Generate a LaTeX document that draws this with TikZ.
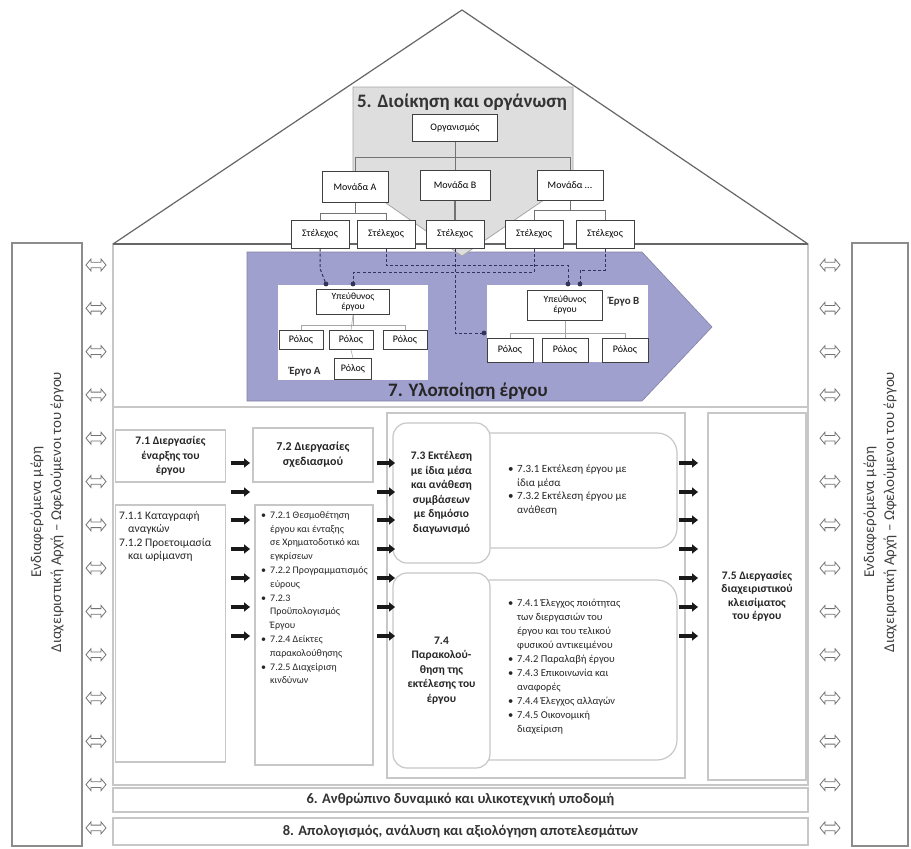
\documentclass[tikz,border=0pt]{standalone}
\usepackage{fontspec}
\setmainfont{Carlito}
\usetikzlibrary{arrows.meta}
\definecolor{lav}{RGB}{160,160,206}
\definecolor{dashc}{RGB}{50,50,90}
\newcommand\bl{\makebox[9pt][l]{\textbullet}}
\newcommand\ind{\hspace*{9pt}}
\tikzset{
  roofline/.style={draw=black!60, line width=1.2pt},
  frame/.style={draw=black!22, line width=1.3pt},
  orgbox/.style={draw=black!75, line width=1pt, fill=white, inner sep=1pt, align=center, font=\fontsize{10}{11}\selectfont},
  treeline/.style={draw=black!55, line width=0.8pt},
  lighttree/.style={draw=black!35, line width=0.6pt},
  dconn/.style={draw=dashc, line width=1pt, dash pattern=on 3pt off 2.2pt},
  pbox/.style={draw=black!22, line width=1.2pt, fill=white},
  rbox/.style={draw=black!22, line width=1.2pt, fill=white, rounded corners=14pt},
  headtxt/.style={font=\bfseries\fontsize{12}{15}\selectfont, align=center, text=black!85},
  bodytxt/.style={align=left, text=black!85, inner sep=0pt},
  barrow/.style={line width=3.2pt, -{Triangle[length=6pt,width=9pt]}, black!90},
  bartxt/.style={font=\bfseries\fontsize{14.5}{16}\selectfont, text=black!80},
  sidetxt/.style={font=\fontsize{15}{20}\selectfont, align=center, text=black!75, rotate=90},
  pics/dbl/.style={code={\draw[black!55, fill=white, line width=0.8pt] (-10,0) -- (-5,-6) -- (-5,-2.8) -- (5,-2.8) -- (5,-6) -- (10,0) -- (5,6) -- (5,2.8) -- (-5,2.8) -- (-5,6) -- cycle;}}
}
\begin{document}
\begin{tikzpicture}[x=1pt,y=-1pt]
\useasboundingbox (0,0) rectangle (911,849);
\fill[white] (0,0) rectangle (911,849);

% side panels
\node[draw=black!45, line width=1.2pt, minimum width=70pt, minimum height=603pt, inner sep=0pt] (sideL) at (47,544.5) {};
\node[draw=black!45, line width=1.2pt, minimum width=56pt, minimum height=603pt, inner sep=0pt] (sideR) at (880,544.5) {};
\node[sidetxt] (sideLt) at (47,512) {Ενδιαφερόμενα μέρη\\Διαχειριστική Αρχή – Ωφελούμενοι του έργου};
\node[sidetxt] (sideRt) at (880,512) {Ενδιαφερόμενα μέρη\\Διαχειριστική Αρχή – Ωφελούμενοι του έργου};

% double arrows
\foreach \i in {0,...,13} {
  \pgfmathsetmacro\yy{265+43.3*\i}
  \pic (dL\i) at (96,\yy) {dbl};
  \pic (dR\i) at (830,\yy) {dbl};
}

% roof and main frame
\draw[roofline] (113,244) -- (462,10) -- (808,244);
\draw[frame] (113,244) rectangle (808,785);
\draw[frame] (113,407) -- (808,407);

% purple chevron
\filldraw[fill=lav, draw=lav!80!black, line width=0.6pt] (247,252) -- (642,252) -- (712,327) -- (642,401) -- (247,401) -- cycle;

% gray chevron of section 5
\filldraw[fill=black!13, draw=black!35, line width=0.8pt] (353,87) -- (573,87) -- (573,180) -- (462,256) -- (353,180) -- cycle;
\draw[roofline] (113,244) -- (808,244);
\node[font=\bfseries\fontsize{19}{21}\selectfont, text=black!80] (t5) at (462,102) {5. Διοίκηση και οργάνωση};

% organisation tree
\node[orgbox, minimum width=85pt, minimum height=27pt] (org) at (455,128) {Οργανισμός};
\node[orgbox, minimum width=66pt, minimum height=31pt] (monA) at (355,187) {Μονάδα Α};
\node[orgbox, minimum width=70pt, minimum height=30pt] (monB) at (455,185) {Μονάδα Β};
\node[orgbox, minimum width=66pt, minimum height=30pt] (monC) at (570,185) {Μονάδα ...};
\foreach \x [count=\i] in {320,386,455,534,605} {
  \node[orgbox, minimum width=58pt, minimum height=28pt] (st\i) at (\x,234) {Στέλεχος};
}
\draw[treeline] (org.south) -- ++(0,15.5) -| (monA.north);
\draw[treeline] (org.south) -- ++(0,15.5) -| (monC.north);
\draw[treeline] (org.south) -- (monB.north);
\draw[treeline] (monA.south) -- ++(0,10) -| (st1.north);
\draw[treeline] (monA.south) -- ++(0,10) -| (st2.north);
\draw[treeline] (monC.south) -- ++(0,10) -| (st4.north);
\draw[treeline] (monC.south) -- ++(0,10) -| (st5.north);
\draw[treeline, line width=1.6pt] (monB.south) -- (st3.north);

% projects
\node[fill=white, minimum width=150pt, minimum height=95pt, inner sep=0pt] (projA) at (353,332.5) {};
\node[fill=white, minimum width=161pt, minimum height=77pt, inner sep=0pt] (projB) at (567.5,323.5) {};
\node[orgbox, minimum width=73pt, minimum height=25pt, font=\fontsize{9.5}{10}\selectfont] (respA) at (353,302) {Υπεύθυνος\\έργου};
\node[orgbox, minimum width=44pt, minimum height=19pt] (rA1) at (301,340) {Ρόλος};
\node[orgbox, minimum width=44pt, minimum height=19pt] (rA2) at (351,340) {Ρόλος};
\node[orgbox, minimum width=44pt, minimum height=19pt] (rA3) at (405,340) {Ρόλος};
\node[orgbox, minimum width=37pt, minimum height=21pt] (rA4) at (353,369) {Ρόλος};
\node[font=\bfseries\fontsize{11}{12}\selectfont, text=black!80] (lblA) at (305,372) {Έργο Α};
\draw[lighttree] (respA.south) -- ++(0,10) -| (rA1.north);
\draw[lighttree] (respA.south) -- ++(0,10) -| (rA3.north);
\draw[lighttree] (respA.south) -- (rA2.north);
\draw[lighttree] (rA2.south) -- (rA4.north);
\node[orgbox, minimum width=75pt, minimum height=30pt, font=\fontsize{9.5}{10.5}\selectfont] (respB) at (565,305) {Υπεύθυνος\\έργου};
\node[font=\bfseries\fontsize{11}{12}\selectfont, text=black!80] (lblB) at (624,302) {Έργο Β};
\node[orgbox, minimum width=46pt, minimum height=24pt] (rB1) at (510,350) {Ρόλος};
\node[orgbox, minimum width=46pt, minimum height=24pt] (rB2) at (565,350) {Ρόλος};
\node[orgbox, minimum width=46pt, minimum height=24pt] (rB3) at (625,350) {Ρόλος};
\draw[lighttree] (respB.south) -- ++(0,13) -| (rB1.north);
\draw[lighttree] (respB.south) -- ++(0,13) -| (rB3.north);
\draw[lighttree] (respB.south) -- (rB2.north);

% dashed assignment connectors
\coordinate (dA1) at (326,284);
\coordinate (dA2) at (353,284);
\coordinate (dB1) at (568,284);
\coordinate (dB2) at (580,284);
\coordinate (dB3) at (484,333);
\draw[dconn] (st1.south) -- ++(0,20) -- (dA1);
\draw[dconn] (st4.south) -- ++(0,24) -| (dA2);
\draw[dconn] (st2.south) -- ++(0,17) -| (dB1);
\draw[dconn] (st5.south) -- ++(0,22) -| (dB2);
\draw[dconn] (st3.south) |- (dB3);
\foreach \c in {dA1,dA2,dB1,dB2,dB3} \fill[dashc] (\c) circle (2.4);
\node[font=\bfseries\fontsize{19}{21}\selectfont, text=black!85] (t7) at (468,391) {7. Υλοποίηση έργου};

% lower process section
\node[pbox, minimum width=110pt, minimum height=52pt] (b71h) at (170.5,456) {};
\node[headtxt, font=\bfseries\fontsize{11.5}{14.5}\selectfont] (t71h) at (b71h) {7.1 Διεργασίες\\έναρξης του\\έργου};
\node[pbox, minimum width=110pt, minimum height=257pt] (b71c) at (170.5,633.5) {};
\node[bodytxt, font=\fontsize{11.5}{13.5}\selectfont, anchor=north west] (t71c) at (119,511) {7.1.1 Καταγραφή\\\ind αναγκών\\7.1.2 Προετοιμασία\\\ind και ωρίμανση};
\node[pbox, minimum width=120pt, minimum height=54pt] (b72h) at (313,455) {};
\node[headtxt] (t72h) at (b72h) {7.2 Διεργασίες\\σχεδιασμού};
\node[pbox, minimum width=118pt, minimum height=260pt] (b72c) at (314,635) {};
\node[bodytxt, font=\fontsize{10}{13.8}\selectfont, anchor=north west] (t72c) at (261,511) {%
\bl 7.2.1 Θεσμοθέτηση\\\ind έργου και ένταξης\\\ind σε Χρηματοδοτικό και\\\ind εγκρίσεων\\
\bl 7.2.2 Προγραμματισμός\\\ind εύρους\\
\bl 7.2.3\\\ind Προϋπολογισμός\\\ind Έργου\\
\bl 7.2.4 Δείκτες\\\ind παρακολούθησης\\
\bl 7.2.5 Διαχείριση\\\ind κινδύνων};

\node[pbox, minimum width=298pt, minimum height=365pt] (b7out) at (536,595.5) {};
\node[rbox, rounded corners=20pt, minimum width=207pt, minimum height=115pt] (b73r) at (573.5,490.5) {};
\node[rbox, minimum width=97pt, minimum height=140pt] (b73l) at (441.5,493) {};
\node[headtxt, font=\bfseries\fontsize{11.5}{14.5}\selectfont] (t73l) at (b73l) {7.3 Εκτέλεση\\με ίδια μέσα\\και ανάθεση\\συμβάσεων\\με δημόσιο\\διαγωνισμό};
\node[bodytxt, font=\fontsize{11}{13.5}\selectfont, anchor=west] (t73r) at (508,490) {%
\bl 7.3.1 Εκτέλεση έργου με\\\ind ίδια μέσα\\
\bl 7.3.2 Εκτέλεση έργου με\\\ind ανάθεση};
\node[rbox, rounded corners=20pt, minimum width=207pt, minimum height=180pt] (b74r) at (573.5,670) {};
\node[rbox, minimum width=97pt, minimum height=195pt] (b74l) at (441.5,670.5) {};
\node[headtxt, font=\bfseries\fontsize{11.5}{14.5}\selectfont] (t74l) at (b74l) {7.4\\Παρακολού-\\θηση της\\εκτέλεσης του\\έργου};
\node[bodytxt, font=\fontsize{10.5}{14}\selectfont, anchor=north west] (t74r) at (508,599) {%
\bl 7.4.1 Έλεγχος ποιότητας\\\ind των διεργασιών του\\\ind έργου και του τελικού\\\ind φυσικού αντικειμένου\\
\bl 7.4.2 Παραλαβή έργου\\
\bl 7.4.3 Επικοινωνία και\\\ind αναφορές\\
\bl 7.4.4 Έλεγχος αλλαγών\\
\bl 7.4.5 Οικονομική\\\ind διαχείριση};

\node[pbox, minimum width=98pt, minimum height=367pt] (b75) at (757,596.5) {};
\node[headtxt, font=\bfseries\fontsize{11.5}{13.5}\selectfont] (t75) at (b75) {7.5 Διεργασίες\\διαχειριστικού\\κλεισίματος\\του έργου};

% black flow arrows
\foreach \y [count=\i] in {463,492,520,549,578,607,636} {
  \coordinate (a1s\i) at (231,\y); \coordinate (a1e\i) at (250,\y);
  \coordinate (a2s\i) at (377,\y); \coordinate (a2e\i) at (395,\y);
  \coordinate (a3s\i) at (679,\y); \coordinate (a3e\i) at (698,\y);
  \draw[barrow] (a1s\i) -- (a1e\i);
  \draw[barrow] (a2s\i) -- (a2e\i);
  \draw[barrow] (a3s\i) -- (a3e\i);
}

% bottom bars
\node[pbox, minimum width=695pt, minimum height=24pt] (bar6) at (460.5,800) {};
\node[bartxt] (t6) at (bar6) {6. Ανθρώπινο δυναμικό και υλικοτεχνική υποδομή};
\node[pbox, minimum width=695pt, minimum height=27pt] (bar8) at (460.5,831.5) {};
\node[bartxt] (t8) at (bar8) {8. Απολογισμός, ανάλυση και αξιολόγηση αποτελεσμάτων};
\end{tikzpicture}
\end{document}
